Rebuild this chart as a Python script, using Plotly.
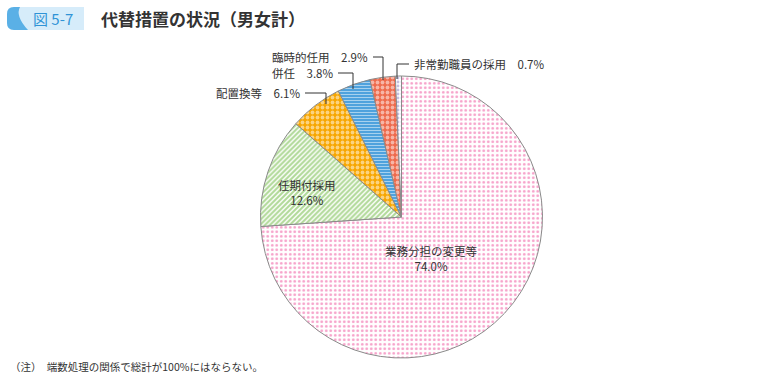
import plotly.graph_objects as go

categories = ["業務分担の変更等", "任期付採用", "配置換等", "併任", "臨時的任用", "非常勤職員の採用"]
values = [74.0, 12.6, 6.1, 3.8, 2.9, 0.7]

FONT = "Noto Sans CJK JP"
TXT = "#333333"

patterns = [
    dict(shape=".", fgcolor="#ec4393", bgcolor="#ffffff", size=4.5, solidity=0.3),
    dict(shape="/", fgcolor="#62b331", bgcolor="#ffffff", size=3.5, solidity=0.6),
    dict(shape=".", fgcolor="#ffffff", bgcolor="#f7a600", size=5, solidity=0.45),
    dict(shape="-", fgcolor="#ffffff", bgcolor="#4fa2dd", size=3, solidity=0.35),
    dict(shape=".", fgcolor="#ffffff", bgcolor="#ee6a4c", size=5, solidity=0.45),
    dict(shape=".", fgcolor="#8a7fc2", bgcolor="#ffffff", size=4, solidity=0.4),
]

fig = go.Figure(go.Pie(
    labels=categories, values=values, sort=False, direction="clockwise", rotation=0,
    textinfo="none", hoverinfo="label+value",
    marker=dict(colors=["#ffffff"] * 6, line=dict(color="#8a8a8a", width=1),
                pattern=dict(shape=[p["shape"] for p in patterns],
                             fgcolor=[p["fgcolor"] for p in patterns],
                             bgcolor=[p["bgcolor"] for p in patterns],
                             size=[p["size"] for p in patterns],
                             solidity=[p["solidity"] for p in patterns],
                             fillmode="overlay")),
    domain=dict(x=[260 / 760, 543 / 760], y=[1 - 358 / 380, 1 - 76 / 380]),
    showlegend=False,
))

W, H = 760, 380
def px(x):
    return x / W
def py(y):
    return 1 - y / H

ann = []
shapes = []

def label(x, y, text, xanchor="center", size=11.5, color=TXT, align="center"):
    ann.append(dict(x=px(x), y=py(y), xanchor=xanchor, yanchor="middle", text=text,
                    showarrow=False, align=align, font=dict(size=size, color=color, family=FONT)))

# inside labels
label(431, 258, f"{categories[0]}<br>{values[0]:.1f}%")
label(307, 192, f"{categories[1]}<br>{values[1]:.1f}%")

# outside labels with leader lines
outs = [
    (2, 302, 93, [(305, 93), (326, 93), (326, 104)]),
    (3, 335, 73, [(338, 73), (353, 73), (353, 89)]),
    (4, 370, 57, [(373, 57), (383, 57), (383, 80)]),
]
for i, xr, yy, pts in outs:
    label(xr, yy, f"{categories[i]}　{values[i]:.1f}%", xanchor="right")
    path = "M " + " L ".join(f"{px(a)},{py(b)}" for a, b in pts)
    shapes.append(dict(type="path", xref="paper", yref="paper", path=path,
                       line=dict(color="#333333", width=1)))
label(412, 64, f"{categories[5]}　{values[5]:.1f}%", xanchor="left")
pts = [(409, 64), (397, 64), (397, 79)]
shapes.append(dict(type="path", xref="paper", yref="paper",
                   path="M " + " L ".join(f"{px(a)},{py(b)}" for a, b in pts),
                   line=dict(color="#333333", width=1)))

# title badge
shapes.append(dict(type="path", xref="paper", yref="paper",
                   path=f"M {px(14)},{py(7)} L {px(84)},{py(7)} L {px(84)},{py(30)} L {px(14)},{py(30)} Q {px(7)},{py(30)} {px(7)},{py(23)} L {px(7)},{py(14)} Q {px(7)},{py(7)} {px(14)},{py(7)} Z",
                   fillcolor="#d6ecfa", line=dict(width=0)))
shapes.append(dict(type="path", xref="paper", yref="paper",
                   path=f"M {px(14)},{py(7)} L {px(20)},{py(7)} Q {px(15)},{py(16)} {px(28)},{py(30)} L {px(14)},{py(30)} Q {px(7)},{py(30)} {px(7)},{py(23)} L {px(7)},{py(14)} Q {px(7)},{py(7)} {px(14)},{py(7)} Z",
                   fillcolor="#5ab0e6", line=dict(width=0)))
label(31, 18.5, "図 5-7", xanchor="left", size=15, color="#2f93d6")
label(99, 18.5, "<b>代替措置の状況（男女計）</b>", xanchor="left", size=17, color="#333333")

# footnote
label(8, 366, "（注）　端数処理の関係で総計が100%にはならない。", xanchor="left", size=10.5)

fig.update_layout(width=W, height=H, margin=dict(l=0, r=0, t=0, b=0),
                  paper_bgcolor="#ffffff", plot_bgcolor="#ffffff",
                  annotations=ann, shapes=shapes, font=dict(family=FONT))
fig.write_html("out.html", config={"displayModeBar": False},
               post_script="document.body.style.margin='0';")
